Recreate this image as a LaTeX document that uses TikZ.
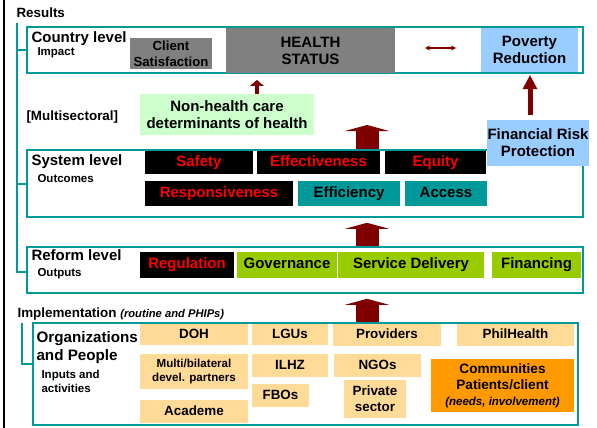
\documentclass[tikz,border=0pt]{standalone}
\usepackage{fontspec}
\setmainfont{Liberation Sans}
\usetikzlibrary{arrows.meta}
\definecolor{frame}{HTML}{009999}
\definecolor{darkred}{HTML}{800000}
\definecolor{statgray}{HTML}{808080}
\definecolor{palegreen}{HTML}{CCFFCC}
\definecolor{skyblue}{HTML}{99CCFF}
\definecolor{leafgreen}{HTML}{99CC00}
\definecolor{tan}{HTML}{FFDB97}
\definecolor{orange}{HTML}{FF9900}
\tikzset{
  big/.style={font=\bfseries\fontsize{15}{17}\selectfont},
  mid/.style={font=\bfseries\fontsize{13.4}{16}\selectfont},
  small/.style={font=\bfseries\fontsize{11.5}{13.5}\selectfont},
  box/.style={inner sep=0pt, align=center},
  oneline/.style={text height=10.5pt, text depth=3pt},
  lvlbox/.style={box, draw=frame, line width=1.6pt, fill=white},
  redtag/.style={box, big, oneline, fill=black, text=red},
  tealtag/.style={box, big, oneline, fill=frame},
  greentag/.style={box, big, oneline, fill=leafgreen},
  tanbox/.style={box, mid, fill=tan},
  fatarrow/.style={draw=darkred, line width=23pt,
    -{Triangle[width=44pt,length=6pt,line width=0pt]}},
}

\begin{document}
\begin{tikzpicture}[x=1pt,y=-1pt]
  \fill[white] (0,0) rectangle (597,428);
  \useasboundingbox (0,0) rectangle (597,428);

  % rand links
  \draw[line width=2pt] (3.5,0) -- (3.5,428);

  % niveaus
  \node[lvlbox, minimum width=556pt, minimum height=46pt] (country) at (305,50) {};
  \node[lvlbox, minimum width=556pt, minimum height=67pt] (sys) at (305,183.5) {};
  \node[lvlbox, minimum width=556pt, minimum height=46pt] (reform) at (305,270) {};
  \node[lvlbox, minimum width=545pt, minimum height=102pt] (org) at (305.5,374) {};

  % klammern
  \coordinate (rtop) at (17,23);
  \draw[frame, line width=2pt] (rtop) |- ([yshift=-2pt]reform.west);
  \draw[frame, line width=2pt] (rtop |- country.west) -- (country.west);
  \draw[frame, line width=2pt] (rtop |- sys.west) -- (sys.west);
  \coordinate (itop) at (22,323);
  \draw[frame, line width=2pt] (itop) |- ([yshift=10pt]org.west);

  % titel
  \node[mid, anchor=base west] (results) at (13,18) {Results};
  \node[big, anchor=base west] (countrylbl) at (28,43) {Country level};
  \node[small, anchor=base west] (impact) at (34,56) {Impact};
  \node[mid, anchor=base west] (multi) at (23,121) {[Multisectoral]};
  \node[big, anchor=base west] (syslbl) at (28,165) {System level};
  \node[small, anchor=base west] (outcomes) at (34,182) {Outcomes};
  \node[big, anchor=base west] (reformlbl) at (28,260) {Reform level};
  \node[small, anchor=base west] (outputs) at (34,276) {Outputs};
  \node[mid, anchor=base west] (impl) at (14,317)
    {Implementation {\fontsize{11.2}{13}\selectfont\itshape (routine and PHIPs)}};
  \node[big, anchor=base west, align=left, font=\bfseries\fontsize{15.2}{18}\selectfont]
    (orglbl) at (33,360) {Organizations\\and People};
  \node[small, anchor=base west, align=left] (inputs) at (38,392) {Inputs and\\activities};

  % impact
  \node[box, fill=statgray, font=\bfseries\fontsize{13.2}{16}\selectfont,
    minimum width=82pt, minimum height=31pt] (client) at (171,53.5) {Client\\Satisfaction};
  \node[box, big, fill=statgray, minimum width=169pt, minimum height=44.5pt]
    (health) at (310.5,50.5) {HEALTH\\STATUS};
  \node[box, big, fill=skyblue, minimum width=97pt, minimum height=44pt]
    (poverty) at (529.5,50) {Poverty\\Reduction};
  \coordinate (la) at (425,48);
  \coordinate (lb) at (456,48);
  \draw[darkred, line width=1.2pt,
    {Stealth[length=5pt,width=5pt]}-{Stealth[length=5pt,width=5pt]}] (la) -- (lb);

  \node[box, big, fill=palegreen, minimum width=174pt, minimum height=41pt]
    (nonhealth) at (227,114.5) {Non-health care\\determinants of health};

  % outcomes
  \node[redtag, minimum width=108pt, minimum height=23pt] (safety) at (199,162.5) {Safety};
  \node[redtag, minimum width=123pt, minimum height=23pt] (effect) at (318.5,162.5) {Effectiveness};
  \node[redtag, minimum width=101pt, minimum height=23pt] (equity) at (435.5,162.5) {Equity};
  \node[redtag, minimum width=148pt, minimum height=25pt] (resp) at (219,193.5) {Responsiveness};
  \node[tealtag, minimum width=102pt, minimum height=25pt] (effic) at (349,193.5) {Efficiency};
  \node[tealtag, minimum width=82pt, minimum height=25pt] (access) at (446,193.5) {Access};

  \node[box, big, fill=skyblue, minimum width=102pt, minimum height=46pt]
    (frp) at (538,143) {Financial Risk\\Protection};

  % outputs
  \node[redtag, minimum width=94pt, minimum height=26pt] (regul) at (187,265) {Regulation};
  \node[greentag, minimum width=100pt, minimum height=26pt] (govern) at (287,265) {Governance};
  \node[greentag, minimum width=146pt, minimum height=26pt] (service) at (411,265) {Service Delivery};
  \node[greentag, minimum width=89pt, minimum height=26pt] (financing) at (536.5,265) {Financing};

  % inputs
  \node[tanbox, oneline, minimum width=108pt, minimum height=21pt] (doh) at (194,334.5) {DOH};
  \node[tanbox, oneline, minimum width=76pt, minimum height=21pt] (lgus) at (290,334.5) {LGUs};
  \node[tanbox, oneline, minimum width=108pt, minimum height=22pt] (providers) at (387,335) {Providers};
  \node[tanbox, oneline, minimum width=117pt, minimum height=22pt] (philhealth) at (515.5,335) {PhilHealth};
  \node[tanbox, small, font=\bfseries\fontsize{11.6}{14}\selectfont,
    minimum width=108pt, minimum height=35pt] (partners) at (194,371.5) {Multi/bilateral\\devel. partners};
  \node[tanbox, oneline, minimum width=76pt, minimum height=23pt] (ilhz) at (290,365.5) {ILHZ};
  \node[tanbox, oneline, minimum width=87pt, minimum height=23pt] (ngos) at (377.5,365.5) {NGOs};
  \node[tanbox, oneline, minimum width=57pt, minimum height=23pt] (fbos) at (280.5,395.5) {FBOs};
  \node[tanbox, minimum width=62pt, minimum height=38pt] (private) at (375,399) {Private\\sector};
  \node[tanbox, oneline, minimum width=108pt, minimum height=23pt] (academe) at (194,411.5) {Academe};
  \node[box, fill=orange, font=\bfseries\fontsize{13.6}{16}\selectfont,
    minimum width=143pt, minimum height=53pt] (communities) at (502.5,385.5)
    {Communities\\Patients/client\\{\fontsize{11.5}{14}\selectfont\itshape (needs, involvement)}};

  % pfeile
  \coordinate (imptip) at (367,125);
  \draw[fatarrow] (imptip |- sys.north) -- (imptip);
  \draw[fatarrow, shorten >=5pt] (reform.north -| imptip) -- (sys.south -| imptip);
  \draw[fatarrow, shorten >=5pt] (org.north -| imptip) -- (reform.south -| imptip);
  \draw[draw=darkred, line width=4pt, shorten >=7pt,
    -{Triangle[width=14pt,length=6pt,line width=0pt]}]
    ([xshift=30pt]nonhealth.north) -- ([xshift=30pt]nonhealth.north |- health.south);
  \draw[draw=darkred, line width=5pt, shorten <=5pt, shorten >=3pt,
    -{Triangle[width=15pt,length=14pt,line width=0pt]}]
    ([xshift=-8pt]frp.north) -- ([xshift=-8pt]frp.north |- poverty.south);
\end{tikzpicture}
\end{document}
